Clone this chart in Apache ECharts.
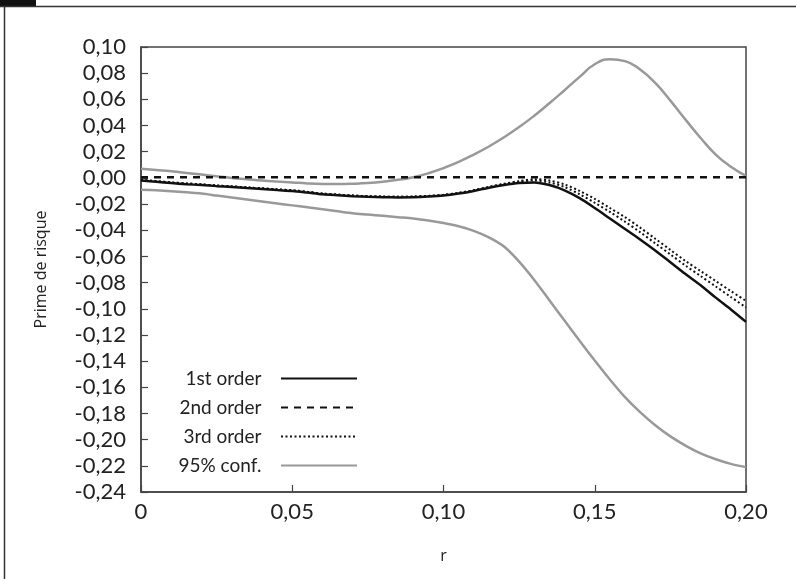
<!DOCTYPE html>
<html>
<head>
<meta charset="utf-8">
<script src="https://cdn.jsdelivr.net/npm/echarts@6/dist/echarts.min.js"></script>
<style>
html, body { margin: 0; padding: 0; background: #fff; }
#chart { width: 796px; height: 579px; }
</style>
</head>
<body>
<div id="chart"></div>
<script>
// r grid, step 0.005
const rValues = [0, 0.005, 0.01, 0.015, 0.02, 0.025, 0.03, 0.035, 0.04, 0.045, 0.05,
  0.055, 0.06, 0.065, 0.07, 0.075, 0.08, 0.085, 0.09, 0.095, 0.10,
  0.105, 0.11, 0.115, 0.12, 0.125, 0.13, 0.135, 0.14, 0.145, 0.15,
  0.155, 0.16, 0.165, 0.17, 0.175, 0.18, 0.185, 0.19, 0.195, 0.20];
const firstOrder = [-0.002, -0.003, -0.004, -0.0048, -0.0055, -0.0063, -0.007, -0.0078, -0.0085, -0.0093, -0.010,
  -0.0112, -0.0125, -0.0133, -0.014, -0.0145, -0.0148, -0.0149, -0.0148, -0.0143, -0.0135,
  -0.012, -0.010, -0.0075, -0.0055, -0.004, -0.0035, -0.0055, -0.0095, -0.0155, -0.023,
  -0.031, -0.039, -0.047, -0.0555, -0.0645, -0.0735, -0.082, -0.0915, -0.1005, -0.110];
const secondOrder = [0.0005, 0.0005, 0.0005, 0.0005, 0.0005, 0.0005, 0.0005, 0.0005, 0.0005, 0.0005, 0.0005,
  0.0005, 0.0005, 0.0005, 0.0005, 0.0005, 0.0005, 0.0005, 0.0005, 0.0005, 0.0005,
  0.0005, 0.0005, 0.0005, 0.0005, 0.0005, 0.0005, 0.0005, 0.0005, 0.0005, 0.0005,
  0.0005, 0.0005, 0.0005, 0.0005, 0.0005, 0.0005, 0.0005, 0.0005, 0.0005, 0.0005];
const thirdOrderA = [-0.0015, -0.0025, -0.0035, -0.0043, -0.005, -0.0058, -0.0065, -0.0073, -0.008, -0.0088, -0.0095,
  -0.0107, -0.012, -0.0128, -0.0135, -0.014, -0.0143, -0.0144, -0.0143, -0.0138, -0.013,
  -0.0115, -0.0095, -0.007, -0.0045, -0.0025, -0.001, -0.002, -0.005, -0.010, -0.016,
  -0.023, -0.030, -0.038, -0.0465, -0.055, -0.0635, -0.0712, -0.0788, -0.0865, -0.094];
const thirdOrderB = [-0.0015, -0.0025, -0.0035, -0.0043, -0.005, -0.0058, -0.0065, -0.0073, -0.008, -0.0088, -0.0095,
  -0.0107, -0.012, -0.0128, -0.0135, -0.014, -0.0143, -0.0144, -0.0143, -0.0138, -0.013,
  -0.0115, -0.0095, -0.007, -0.0048, -0.003, -0.002, -0.0035, -0.007, -0.0125, -0.019,
  -0.026, -0.0335, -0.0415, -0.050, -0.0585, -0.067, -0.075, -0.083, -0.091, -0.099];
const confUpper = [0.007, 0.006, 0.005, 0.0038, 0.0025, 0.0012, 0.0, -0.001, -0.002, -0.0028, -0.0035,
  -0.0042, -0.0046, -0.0047, -0.0045, -0.004, -0.003, -0.0015, 0.0005, 0.0035, 0.0075,
  0.0122, 0.0178, 0.024, 0.031, 0.0388, 0.0475, 0.057, 0.067, 0.0772, 0.0868,
  0.0907, 0.0892, 0.0828, 0.0725, 0.059, 0.0445, 0.0305, 0.0178, 0.0085, 0.0015];
const confLower = [-0.009, -0.0095, -0.0102, -0.011, -0.012, -0.0135, -0.015, -0.0165, -0.018, -0.0195, -0.021,
  -0.0225, -0.024, -0.0255, -0.027, -0.028, -0.029, -0.030, -0.031, -0.0325, -0.0345,
  -0.037, -0.0405, -0.0455, -0.0525, -0.064, -0.078, -0.0935, -0.109, -0.1245, -0.1395,
  -0.154, -0.1675, -0.179, -0.189, -0.1975, -0.2045, -0.2105, -0.215, -0.2185, -0.221];
const legendNames = ['1st order', '2nd order', '3rd order', '95% conf.'];

const pairs = (ys) => rValues.map((r, i) => [r, ys[i]]);
const comma = (v) => Math.abs(v) < 1e-9 ? '0,00' : v.toFixed(2).replace('.', ',');

const chart = echarts.init(document.getElementById('chart'));
chart.setOption({
  animation: false,
  backgroundColor: '#fff',
  grid: {
    left: 141, top: 47, right: 50, bottom: 87,
    show: true, borderColor: '#444', borderWidth: 1.5
  },
  legend: {
    data: legendNames,
    orient: 'vertical',
    align: 'right',
    right: 438,
    top: 369,
    padding: 0,
    itemWidth: 76,
    itemHeight: 14,
    itemGap: 10,
    itemStyle: { opacity: 0 },
    formatter: (name) => name + '   ',
    textStyle: { fontFamily: 'Lato', fontSize: 19, color: '#222' }
  },
  xAxis: {
    type: 'value',
    min: 0, max: 0.2, interval: 0.05,
    name: 'r',
    nameLocation: 'middle',
    nameGap: 56,
    nameTextStyle: { fontFamily: 'Open Sans', fontSize: 16, color: '#222' },
    axisLine: { onZero: false, lineStyle: { color: '#444', width: 1.5 } },
    axisTick: { inside: true, length: 7, lineStyle: { color: '#444', width: 1.2 } },
    splitLine: { show: false },
    axisLabel: {
      fontFamily: 'Lato', fontSize: 22, color: '#222', margin: 9,
      formatter: (v) => Math.abs(v) < 1e-9 ? '0' : v.toFixed(2).replace('.', ',')
    }
  },
  yAxis: {
    type: 'value',
    min: -0.24, max: 0.1, interval: 0.02,
    name: 'Prime de risque',
    nameLocation: 'middle',
    nameGap: 92,
    nameRotate: 90,
    nameTextStyle: { fontFamily: 'Open Sans', fontSize: 16, color: '#222' },
    axisLine: { onZero: false, lineStyle: { color: '#444', width: 1.5 } },
    axisTick: { inside: true, length: 7, lineStyle: { color: '#444', width: 1.2 } },
    splitLine: { show: false },
    axisLabel: {
      fontFamily: 'Lato', fontSize: 22, color: '#222', margin: 15,
      formatter: comma
    }
  },
  series: [
    {
      name: '95% conf.', type: 'line', data: pairs(confUpper), smooth: 0.5, symbol: 'none',
      lineStyle: { color: '#999', width: 2.5 }, itemStyle: { color: '#999' }
    },
    {
      name: '95% conf.', type: 'line', data: pairs(confLower), smooth: 0.3, symbol: 'none',
      lineStyle: { color: '#999', width: 2.5 }, itemStyle: { color: '#999' }
    },
    {
      name: '2nd order', type: 'line', data: pairs(secondOrder), symbol: 'none',
      lineStyle: { color: '#111', width: 2.5, type: [7, 6] }, itemStyle: { color: '#111' }
    },
    {
      name: '3rd order', type: 'line', data: pairs(thirdOrderA), smooth: 0.3, symbol: 'none',
      lineStyle: { color: '#111', width: 2, type: [2, 2.5] }, itemStyle: { color: '#111' }
    },
    {
      name: '3rd order', type: 'line', data: pairs(thirdOrderB), smooth: 0.3, symbol: 'none',
      lineStyle: { color: '#111', width: 2, type: [2, 2.5] }, itemStyle: { color: '#111' }
    },
    {
      name: '1st order', type: 'line', data: pairs(firstOrder), smooth: 0.3, symbol: 'none',
      lineStyle: { color: '#111', width: 2.5 }, itemStyle: { color: '#111' }
    }
  ],
  graphic: [
    { type: 'rect', shape: { x: 0, y: 0, width: 36, height: 6 }, style: { fill: '#111' } },
    { type: 'line', shape: { x1: 0, y1: 6.5, x2: 796, y2: 6.5 }, style: { stroke: '#333', lineWidth: 1.5 } },
    { type: 'line', shape: { x1: 4.5, y1: 6, x2: 4.5, y2: 579 }, style: { stroke: '#333', lineWidth: 1.5 } }
  ]
});
</script>
</body>
</html>
